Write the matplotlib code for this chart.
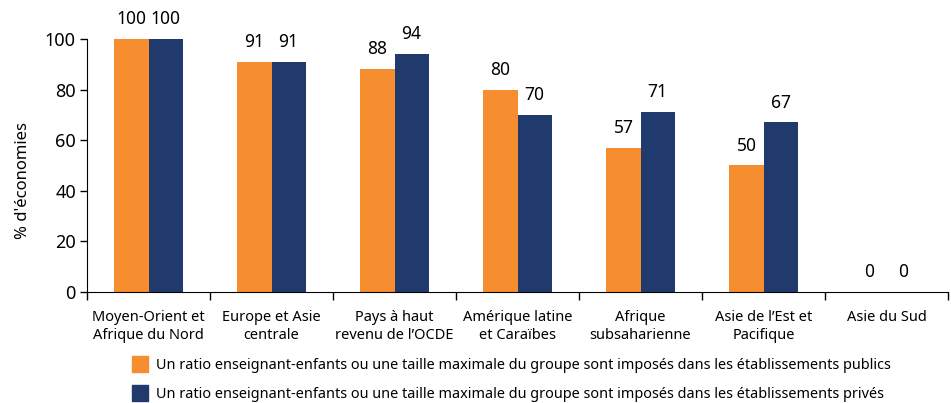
import numpy as np
import matplotlib
matplotlib.use('Agg')
import matplotlib.pyplot as plt
from matplotlib.patches import Patch

plt.rcParams['font.family'] = ['Noto Sans', 'DejaVu Sans']

categories = ['Moyen-Orient et\nAfrique du Nord', 'Europe et Asie\ncentrale',
              'Pays à haut\nrevenu de l\u2019OCDE', 'Amérique latine\net Caraïbes',
              'Afrique\nsubsaharienne', 'Asie de l\u2019Est et\nPacifique', 'Asie du Sud']
publics = [100, 91, 88, 80, 57, 50, 0]
prives = [100, 91, 94, 70, 71, 67, 0]
labels = ['Un ratio enseignant-enfants ou une taille maximale du groupe sont imposés dans les établissements publics',
          'Un ratio enseignant-enfants ou une taille maximale du groupe sont imposés dans les établissements privés']

orange = '#F68D2E'
navy = '#213A6E'

fig = plt.figure(figsize=(9.51, 4.03), dpi=100)
ax = fig.add_axes([87/951, 1 - 292/403, (948 - 87)/951, (292 - 39)/403])

x = np.arange(len(categories))
w = 0.277
b1 = ax.bar(x - w/2, publics, w, color=orange)
b2 = ax.bar(x + w/2, prives, w, color=navy)

for bars in (b1, b2):
    for r in bars:
        h = r.get_height()
        ax.text(r.get_x() + r.get_width()/2, h + 4.3, '%d' % h, ha='center', va='bottom',
                fontsize=12.5, clip_on=False)

ax.set_xlim(-0.5, len(categories) - 0.5)
ax.set_ylim(0, 100)
ax.set_yticks([0, 20, 40, 60, 80, 100])
ax.tick_params(axis='y', labelsize=13, length=5, width=1, pad=3)

# category names centred, ticks at group boundaries
ax.set_xticks(x)
ax.set_xticklabels(categories, fontsize=10.5, linespacing=1.25)
ax.tick_params(axis='x', length=0, pad=13)
ax.set_xticks(np.arange(len(categories) + 1) - 0.5, minor=True)
ax.tick_params(axis='x', which='minor', length=6, width=1)

ax.spines['top'].set_visible(False)
ax.spines['right'].set_visible(False)
ax.set_ylabel("% d'économies", fontsize=12)
ax.yaxis.set_label_coords(-56/861, (292 - 181)/253)

handles = [Patch(color=orange), Patch(color=navy)]
fig.legend(handles, labels, loc='upper left', bbox_to_anchor=(119/951, 1 - 343/403),
           frameon=False, fontsize=10.4, handlelength=1.1, handleheight=1.35,
           handletextpad=0.55, labelspacing=0.85)

fig.savefig('out.png', dpi=100)
